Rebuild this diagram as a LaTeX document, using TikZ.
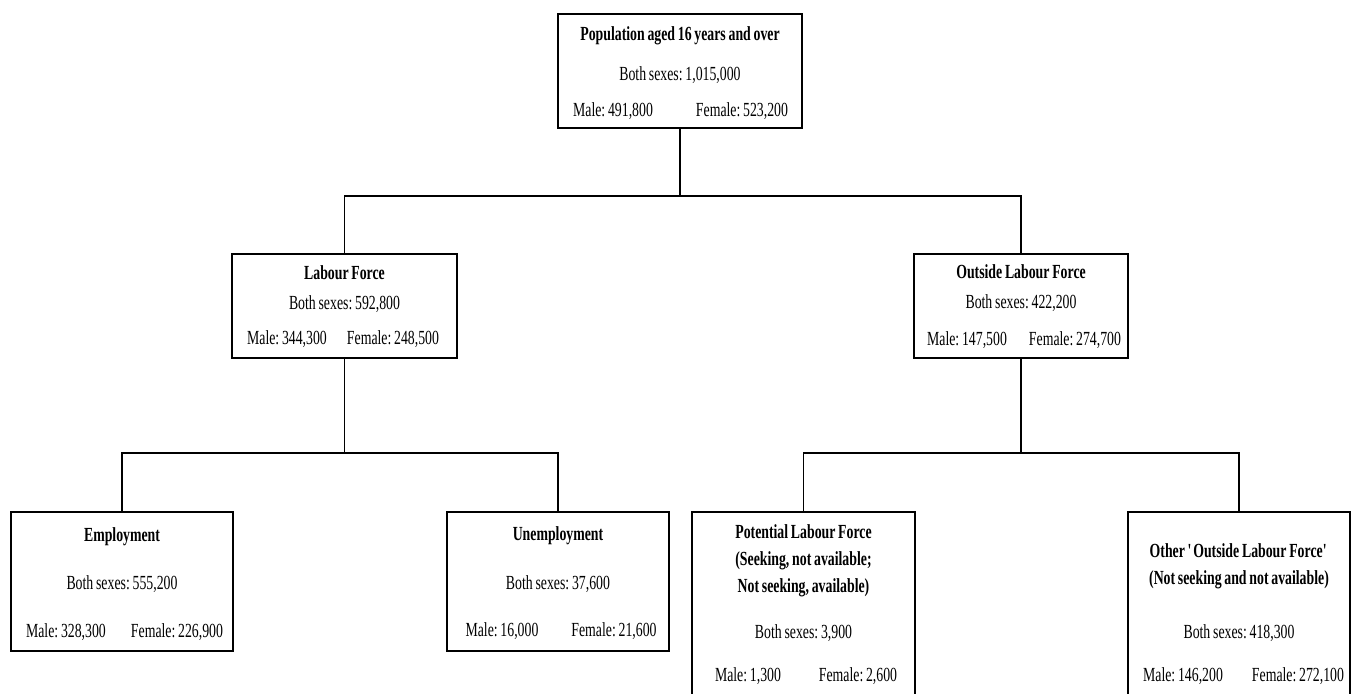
\documentclass[tikz,border=0pt]{standalone}
\usepackage{fontspec}
\setmainfont{Liberation Serif}[FakeStretch=0.69,WordSpace=0.8]
\usepackage{tikz}
\usetikzlibrary{positioning}
\frenchspacing

\begin{document}
\begin{tikzpicture}[x=1pt,y=-1pt,
							catbox/.style={rectangle, draw=black, line width=2pt, fill=white, inner sep=0pt},
							headtxt/.style={inner sep=0pt, align=center, font=\fontsize{20}{27}\selectfont\bfseries},
							numtxt/.style={inner sep=0pt, font=\fontsize{20}{24}\selectfont},
							link/.style={draw=black, line width=1.6pt},
							]
							\useasboundingbox (0,0) rectangle (1351,693);
							\clip (0,0) rectangle (1351,693);
							%Boxes
							\node[catbox, minimum width=244, minimum height=114]	(pop)	at	(680,71)	{};
							\node[catbox, minimum width=225, minimum height=104]	(lf)	at	(344.5,306)	{};
							\node[catbox, minimum width=214, minimum height=104]	(olf)	at	(1021,306)	{};
							\node[catbox, minimum width=222, minimum height=139]	(emp)	at	(122,581.5)	{};
							\node[catbox, minimum width=222, minimum height=139]	(unemp)	at	(558,581.5)	{};
							\node[catbox, minimum width=223, minimum height=228]	(plf)	at	(803.5,626)	{};
							\node[catbox, minimum width=222, minimum height=228]	(oth)	at	(1239,626)	{};
							
							%Connectors
							\draw[link] (pop.south) -- ++(0,67) -| (lf.north);
							\draw[link] (pop.south) -- ++(0,67) -| (olf.north);
							\draw[link] (lf.south) -- ++(0,94) -| (emp.north);
							\draw[link] (lf.south) -- ++(0,94) -| (unemp.north);
							\draw[link] (olf.south) -- ++(0,94) -| (plf.north);
							\draw[link] (olf.south) -- ++(0,94) -| (oth.north);
							
							%Texts
							\node[headtxt]	(popT)	at	(680,36)	{Population aged 16 years and over};
							\node[numtxt]	(popB)	at	(680,75)	{Both sexes: 1,015,000};
							\node[numtxt]	(popM)	at	(613,111)	{Male: 491,800};
							\node[numtxt]	(popF)	at	(742,111)	{Female: 523,200};
							
							\node[headtxt]	(lfT)	at	(344.5,273)	{Labour Force};
							\node[numtxt]	(lfB)	at	(344.5,304)	{Both sexes: 592,800};
							\node[numtxt]	(lfM)	at	(287,339)	{Male: 344,300};
							\node[numtxt]	(lfF)	at	(393,339)	{Female: 248,500};
							
							\node[headtxt]	(olfT)	at	(1021,272)	{Outside Labour Force};
							\node[numtxt]	(olfB)	at	(1021,303)	{Both sexes: 422,200};
							\node[numtxt]	(olfM)	at	(967,340)	{Male: 147,500};
							\node[numtxt]	(olfF)	at	(1075,340)	{Female: 274,700};
							
							\node[headtxt]	(empT)	at	(122,537)	{Employment};
							\node[numtxt]	(empB)	at	(122,584)	{Both sexes: 555,200};
							\node[numtxt]	(empM)	at	(66,632)	{Male: 328,300};
							\node[numtxt]	(empF)	at	(177,632)	{Female: 226,900};
							
							\node[headtxt]	(unempT)	at	(558,536)	{Unemployment};
							\node[numtxt]	(unempB)	at	(558,584)	{Both sexes: 37,600};
							\node[numtxt]	(unempM)	at	(502,631)	{Male: 16,000};
							\node[numtxt]	(unempF)	at	(614,631)	{Female: 21,600};
							
							\node[headtxt]	(plfT)	at	(803.5,561)	{Potential Labour Force\\(Seeking, not available;\\Not seeking, available)};
							\node[numtxt]	(plfB)	at	(803.5,633)	{Both sexes: 3,900};
							\node[numtxt]	(plfM)	at	(748,676)	{Male: 1,300};
							\node[numtxt]	(plfF)	at	(858,676)	{Female: 2,600};
							
							\node[headtxt]	(othT)	at	(1239,566)	{Other \textquotesingle Outside Labour Force\textquotesingle\\(Not seeking and not available)};
							\node[numtxt]	(othB)	at	(1239,633)	{Both sexes: 418,300};
							\node[numtxt]	(othM)	at	(1183,676)	{Male: 146,200};
							\node[numtxt]	(othF)	at	(1298,676)	{Female: 272,100};
						\end{tikzpicture}
\end{document}
